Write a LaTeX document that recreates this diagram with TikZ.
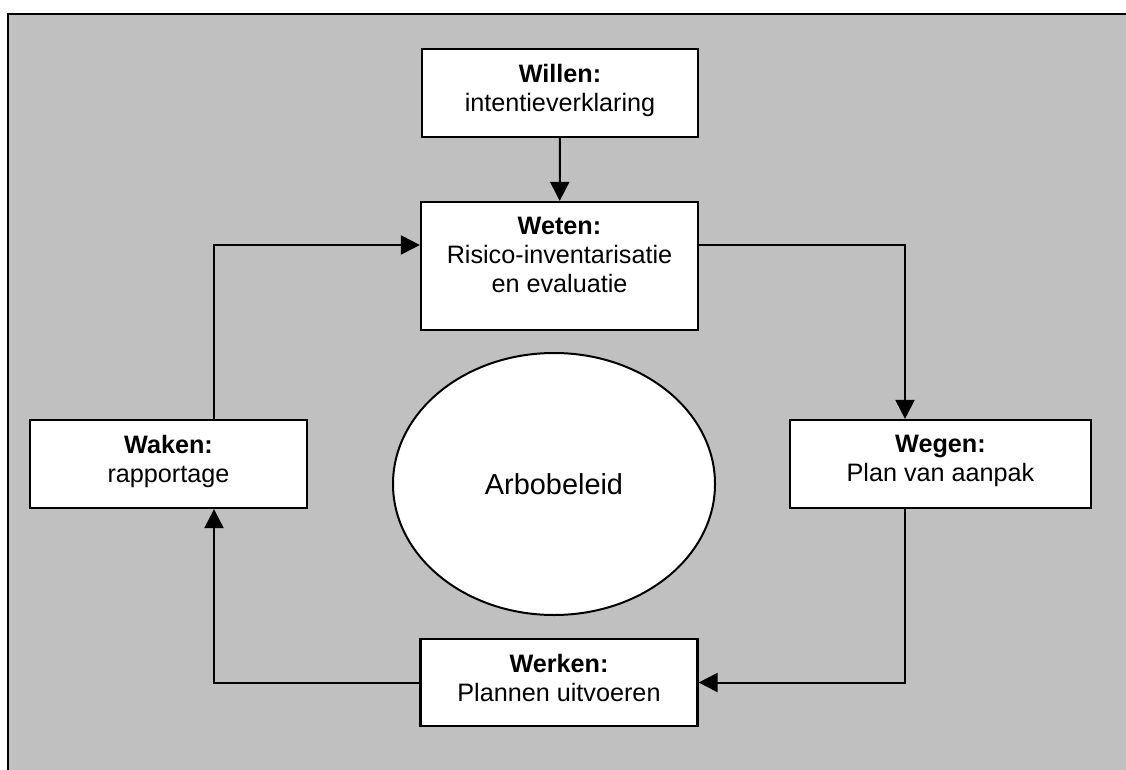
\documentclass[tikz,border=0pt]{standalone}
\usepackage{fontspec}
\setmainfont{Liberation Sans}
\usetikzlibrary{shapes.geometric,arrows.meta}
\definecolor{panelgray}{HTML}{C0C0C0}
\tikzset{
  stagebox/.style={draw=black, fill=white, line width=2.2pt, rectangle, inner sep=0pt},
  stagetext/.style={anchor=north, inner sep=0pt, align=center,
    font=\fontsize{25.2}{29}\selectfont},
  flow/.style={line width=2pt, -{Triangle[length=19pt,width=19pt]}},
}
\begin{document}
\begin{tikzpicture}[x=1pt, y=-1pt]
  \useasboundingbox (0,0) rectangle (1126,770);
  % grey panel, running off the right and bottom edges
  \draw[line width=2.5pt, fill=panelgray] (8,14) rectangle (1160,800);

  % the five stages
  \node[stagebox, minimum width=276pt, minimum height=88pt] (willen) at (560,93) {};
  \node[stagetext] (willentxt) at ([yshift=-16pt]willen.north)
    {\textbf{Willen:}\\intentieverklaring};

  \node[stagebox, minimum width=277pt, minimum height=128pt] (weten) at (559.5,266) {};
  \node[stagetext] (wetentxt) at ([yshift=-16pt]weten.north)
    {\textbf{Weten:}\\Risico-inventarisatie\\en evaluatie};

  \node[stagebox, minimum width=301pt, minimum height=88pt] (wegen) at (940.5,464) {};
  \node[stagetext] (wegentxt) at ([yshift=-16pt]wegen.north)
    {\textbf{Wegen:}\\Plan van aanpak};

  \node[stagebox, minimum width=277pt, minimum height=87pt] (werken) at (559,682.5) {};
  \node[stagetext] (werkentxt) at ([yshift=-16pt]werken.north)
    {\textbf{Werken:}\\Plannen uitvoeren};

  \node[stagebox, minimum width=277pt, minimum height=88pt] (waken) at (168.5,464) {};
  \node[stagetext] (wakentxt) at ([yshift=-16pt]waken.north)
    {\textbf{Waken:}\\rapportage};

  % policy at the centre of the cycle
  \node[draw=black, fill=white, line width=2pt, ellipse, inner sep=0pt,
        minimum width=322pt, minimum height=262pt,
        font=\fontsize{28.9}{33}\selectfont] (arbo) at (554,484) {Arbobeleid};

  % connectors
  \draw[flow] (willen) -- (weten);
  \draw[flow] ([xshift=45.5pt]waken.north) |- ([yshift=21pt]weten.west);
  \draw[flow] ([yshift=21pt]weten.east) -| ([xshift=-35.5pt]wegen.north);
  \draw[flow] ([xshift=-35.5pt]wegen.south) |- (werken.east);
  \draw[flow] (werken.west) -| ([xshift=45.5pt]waken.south);
\end{tikzpicture}
\end{document}
